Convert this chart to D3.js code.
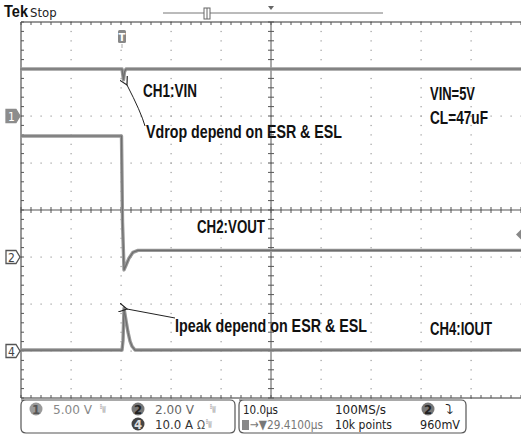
<!DOCTYPE html>
<html>
<head>
<meta charset="utf-8">
<script src="https://cdn.jsdelivr.net/npm/d3@7"></script>
<style>
  body { margin: 0; background: #fff; }
  svg { display: block; }
  .note { font-family: "Liberation Sans", Arial, sans-serif; font-weight: bold; fill: #111; }
  .stat { font-family: "DejaVu Sans Condensed", "Liberation Sans", sans-serif; font-size: 13px; fill: #222; }
</style>
</head>
<body>
<div id="chart"></div>
<script>
// scope traces, time in us (10 us/div, 0 = left edge), values in channel units
const vinTime  = [0, 20.2, 20.5, 20.7, 21.0, 100];
const vinVolts = [5.0, 5.0, 3.85, 4.7, 5.0, 5.0];

const voutTime  = [0, 20.1, 20.3, 20.6, 21.0, 21.6, 22.4, 23.4, 100];
const voutVolts = [5.15, 5.15, 1.5, -0.55, -0.35, -0.05, 0.2, 0.28, 0.28];

const ioutTime = [0, 20.2, 20.4, 20.6, 21.0, 21.4, 21.8, 22.2, 22.8, 100];
const ioutAmps = [0.2, 0.2, 2.2, 9.1, 6.5, 4.0, 2.1, 1.0, 0.2, 0.2];

// channel setup: units/div and ground position in divisions from centre
const channels = [
  { name: "1", perDiv: 5, offset: 2 },
  { name: "2", perDiv: 2, offset: -1 },
  { name: "4", perDiv: 10, offset: -3 }
];

// annotation text, position in divisions, width in px
const notes = [
  { text: "CH1:VIN", x: 2.44, y: 2.40, w: 54 },
  { text: "Vdrop depend on ESR & ESL", x: 2.5, y: 1.53, w: 196 },
  { text: "VIN=5V", x: 8.18, y: 2.34, w: 45 },
  { text: "CL=47uF", x: 8.18, y: 1.83, w: 58 },
  { text: "CH2:VOUT", x: 3.52, y: -0.49, w: 68 },
  { text: "Ipeak depend on ESR & ESL", x: 3.08, y: -2.6, w: 192 },
  { text: "CH4:IOUT", x: 8.18, y: -2.66, w: 62 }
];

const W = 521, H = 436;
const svg = d3.select("#chart").append("svg").attr("width", W).attr("height", H);

// divisions -> pixels
const x = d3.scaleLinear().domain([0, 10]).range([21, 521]);
const y = d3.scaleLinear().domain([-4, 4]).range([398, 22]);
const t = d3.scaleLinear().domain([0, 100]).range([21, 521]);

// dotted graticule
const grid = svg.append("g");
for (let i = 1; i < 10; i++) {
  if (i === 5) continue;
  for (let k = 0; k <= 40; k++) {
    grid.append("rect").attr("x", x(i) - 0.5).attr("y", y(-4 + k * 0.2) - 0.5)
      .attr("width", 1.2).attr("height", 1.2).attr("fill", "#9a9a9a");
  }
}
for (let j = -3; j <= 3; j++) {
  if (j === 0) continue;
  for (let k = 0; k <= 50; k++) {
    grid.append("rect").attr("x", x(k * 0.2) - 0.5).attr("y", y(j) - 0.5)
      .attr("width", 1.2).attr("height", 1.2).attr("fill", "#9a9a9a");
  }
}

// centre axes + border with minor ticks
const axisCol = "#555";
svg.append("line").attr("x1", x(0)).attr("x2", x(10)).attr("y1", y(0)).attr("y2", y(0)).attr("stroke", axisCol);
svg.append("line").attr("x1", x(5)).attr("x2", x(5)).attr("y1", y(-4)).attr("y2", y(4)).attr("stroke", axisCol);
svg.append("line").attr("x1", x(0)).attr("x2", x(10)).attr("y1", y(4)).attr("y2", y(4)).attr("stroke", "#333");
svg.append("line").attr("x1", x(0)).attr("x2", x(10)).attr("y1", y(-4)).attr("y2", y(-4)).attr("stroke", "#333");
svg.append("line").attr("x1", x(0)).attr("x2", x(0)).attr("y1", y(-4)).attr("y2", y(4)).attr("stroke", "#333");
for (let k = 0; k <= 50; k++) {
  const px = x(k * 0.2);
  svg.append("line").attr("x1", px).attr("x2", px).attr("y1", y(0) - 3).attr("y2", y(0) + 3).attr("stroke", axisCol);
  svg.append("line").attr("x1", px).attr("x2", px).attr("y1", y(4)).attr("y2", y(4) + 3).attr("stroke", axisCol);
  svg.append("line").attr("x1", px).attr("x2", px).attr("y1", y(-4)).attr("y2", y(-4) - 3).attr("stroke", axisCol);
}
for (let k = 0; k <= 40; k++) {
  const py = y(-4 + k * 0.2);
  svg.append("line").attr("x1", x(5) - 3).attr("x2", x(5) + 3).attr("y1", py).attr("y2", py).attr("stroke", axisCol);
  svg.append("line").attr("x1", x(0)).attr("x2", x(0) + 3).attr("y1", py).attr("y2", py).attr("stroke", axisCol);
}

// traces
function trace(times, vals, ch) {
  const c = channels.find(d => d.name === ch);
  const pts = times.map((tt, i) => [t(tt), y(c.offset + vals[i] / c.perDiv)]);
  const line = d3.line();
  svg.append("path").attr("d", line(pts)).attr("fill", "none")
    .attr("stroke", "#999").attr("stroke-width", 3.4).attr("stroke-linejoin", "round");
  svg.append("path").attr("d", line(pts)).attr("fill", "none")
    .attr("stroke", "#6e6e6e").attr("stroke-width", 1.2);
}
trace(vinTime, vinVolts, "1");
trace(voutTime, voutVolts, "2");
trace(ioutTime, ioutAmps, "4");

// channel ground markers
channels.forEach(c => {
  const cy = y(c.offset), filled = c.name === "1";
  const g = svg.append("g").attr("transform", `translate(6,${cy})`);
  g.append("path").attr("d", "M0,-6.5 H10 L14,0 L10,6.5 H0 Z")
    .attr("fill", filled ? "#8c8c8c" : "#fff").attr("stroke", filled ? "#8c8c8c" : "#555").attr("stroke-width", 1.3);
  g.append("text").attr("x", 5.5).attr("y", 5).attr("text-anchor", "middle")
    .attr("font-family", "DejaVu Sans Condensed, sans-serif").attr("font-size", 12)
    .attr("fill", filled ? "#fff" : "#444").text(c.name);
});

// trigger marker + trigger level
const tg = svg.append("g").attr("transform", `translate(${t(20.2)},37)`);
tg.append("rect").attr("x", -4).attr("y", -7).attr("width", 8).attr("height", 13).attr("rx", 1.5).attr("fill", "#888");
tg.append("text").attr("y", 4).attr("text-anchor", "middle").attr("font-size", 10).attr("font-family", "DejaVu Sans")
  .attr("font-weight", "bold").attr("fill", "#fff").text("T");
svg.append("line").attr("x1", t(20.2)).attr("x2", t(20.2)).attr("y1", 44).attr("y2", 48).attr("stroke", "#aaa");
const lvl = y(channels[1].offset + 0.96 / channels[1].perDiv);
svg.append("path").attr("d", `M${W - 5},${lvl} L${W},${lvl - 5} L${W},${lvl + 5} Z`).attr("fill", "#888");

// header
svg.append("text").attr("x", 4).attr("y", 17).attr("font-family", "Liberation Sans, sans-serif").attr("font-weight", "bold")
  .attr("font-size", 17).attr("textLength", 24).attr("lengthAdjust", "spacingAndGlyphs").attr("fill", "#111").text("Tek");
svg.append("text").attr("x", 30).attr("y", 17).attr("font-family", "DejaVu Sans Condensed, sans-serif")
  .attr("font-size", 13).attr("fill", "#222").text("Stop");
svg.append("line").attr("x1", 163).attr("x2", 383).attr("y1", 13).attr("y2", 13).attr("stroke", "#777");
svg.append("rect").attr("x", 204).attr("y", 8).attr("width", 6).attr("height", 11).attr("fill", "#fff").attr("stroke", "#666");
svg.append("line").attr("x1", 207).attr("x2", 207).attr("y1", 8).attr("y2", 19).attr("stroke", "#666");
svg.append("path").attr("d", `M${x(5) - 3},6 L${x(5) + 3},6 L${x(5)},10 Z`).attr("fill", "#666");

// annotations
svg.selectAll("text.note").data(notes).join("text").attr("class", "note")
  .attr("x", d => x(d.x)).attr("y", d => y(d.y)).attr("font-size", 19)
  .attr("textLength", d => d.w).attr("lengthAdjust", "spacingAndGlyphs").text(d => d.text);

// arrows
const defs = svg.append("defs");
defs.append("marker").attr("id", "ah").attr("viewBox", "0 0 10 10").attr("refX", 1).attr("refY", 5)
  .attr("markerWidth", 9).attr("markerHeight", 9).attr("orient", "auto")
  .append("path").attr("d", "M10,0 L1,5 L10,10").attr("fill", "none").attr("stroke", "#222").attr("stroke-width", 1.3);
svg.append("path").attr("d", `M145,126 Q141,112 127,85`).attr("fill", "none").attr("stroke", "#222")
  .attr("marker-end", "url(#ah)");
svg.append("line").attr("x1", 175).attr("y1", 318).attr("x2", 127).attr("y2", 309).attr("stroke", "#222")
  .attr("marker-end", "url(#ah)");

// status boxes
function box(x0, x1) {
  svg.append("path").attr("d", `M${x0},400 H${x1 - 5} Q${x1},400 ${x1},405 V428 Q${x1},433 ${x1 - 5},433 H${x0 + 5} Q${x0},433 ${x0},428 V405 Q${x0},400 ${x0 + 5},400 Z`)
    .attr("fill", "#fff").attr("stroke", "#555").attr("stroke-width", 1.2);
}
box(21, 235);
box(239, 466);
function badge(cx, cy, label, fill, col) {
  svg.append("circle").attr("cx", cx).attr("cy", cy).attr("r", 6.5).attr("fill", fill);
  svg.append("text").attr("x", cx).attr("y", cy + 4.5).attr("text-anchor", "middle").attr("class", "stat")
    .attr("font-size", 12).attr("font-weight", "bold").style("fill", col).text(label);
}
badge(36, 409, "1", "#9a9a9a", "#555");
badge(138, 409, "2", "#777", "#222");
badge(138, 424, "4", "#444", "#ddd");
badge(428, 409, "2", "#777", "#222");
const stat = (tx, ty, s, w, col) => svg.append("text").attr("class", "stat").attr("x", tx).attr("y", ty)
  .attr("textLength", w).attr("lengthAdjust", "spacingAndGlyphs").style("fill", col || "#222").text(s);
stat(53, 414, "5.00 V", 39, "#888");
stat(100, 413, "ᴮw", 6, "#999").attr("font-size", 9);
stat(155, 414, "2.00 V", 39, "#666");
stat(210, 413, "ᴮw", 6, "#999").attr("font-size", 9);
stat(155, 429, "10.0 A", 38, "#333");
stat(197, 429, "Ω", 8, "#555").attr("font-size", 12);
stat(206, 428, "ᴮw", 6, "#999").attr("font-size", 9);
stat(243, 414, "10.0µs", 35);
stat(335, 414, "100MS/s", 51);
stat(445, 414, "⤵", 9, "#222").attr("font-size", 12);
svg.append("rect").attr("x", 242).attr("y", 420).attr("width", 7).attr("height", 10).attr("fill", "#888");
stat(250, 429, "→▼29.4100µs", 73, "#777");
stat(335, 429, "10k points", 57);
stat(420, 429, "960mV", 40);
</script>
</body>
</html>
